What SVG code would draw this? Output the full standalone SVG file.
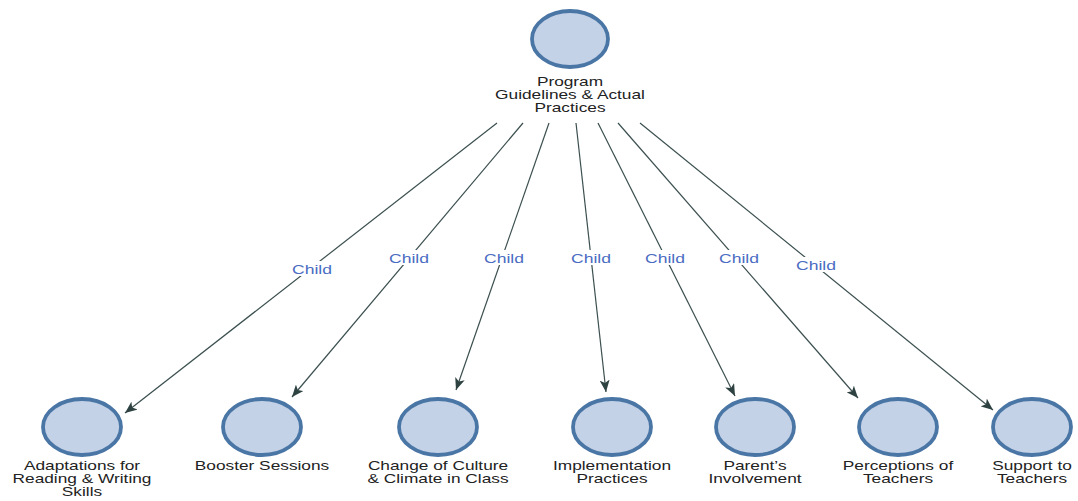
<svg xmlns="http://www.w3.org/2000/svg" width="1078" height="501" viewBox="0 0 1078 501">
  <style>
    .node ellipse { fill: #c4d2e7; stroke: #4a76a6; stroke-width: 3.8; }
    .node text { font-family: "Liberation Sans", Arial, sans-serif; font-size: 13.5px; fill: #222; text-anchor: middle; }
    .edge line { stroke: #3c4f4f; stroke-width: 1.2; marker-end: url(#arrow); }
    .edge rect { fill: #ffffff; }
    .edge text { font-family: "Liberation Sans", Arial, sans-serif; font-size: 13.5px; fill: #4a6cc2; text-anchor: middle; }
  </style>
  <defs>
    <marker id="arrow" markerUnits="userSpaceOnUse" markerWidth="14" markerHeight="10" refX="12" refY="5" orient="auto">
      <path d="M0,0 L12,5 L0,10 L3,5 z" fill="#2f4242"/>
    </marker>
  </defs>
  <rect width="1078" height="501" fill="#ffffff"/>

  <!-- connectors: parent to each child -->
  <g id="connectors">
    <g class="edge">
      <line x1="497" y1="123" x2="125" y2="413"/>
      <rect x="290" y="261" width="44" height="15"/>
      <text transform="translate(312,274) scale(1.3,1)">Child</text>
    </g>
    <g class="edge">
      <line x1="523" y1="123" x2="292" y2="397"/>
      <rect x="387" y="250" width="44" height="15"/>
      <text transform="translate(409,263) scale(1.3,1)">Child</text>
    </g>
    <g class="edge">
      <line x1="549" y1="123" x2="456" y2="390"/>
      <rect x="482" y="250" width="44" height="15"/>
      <text transform="translate(504,263) scale(1.3,1)">Child</text>
    </g>
    <g class="edge">
      <line x1="576" y1="123" x2="606" y2="392"/>
      <rect x="569" y="250" width="44" height="15"/>
      <text transform="translate(591,263) scale(1.3,1)">Child</text>
    </g>
    <g class="edge">
      <line x1="598" y1="123" x2="735" y2="396"/>
      <rect x="643" y="250" width="44" height="15"/>
      <text transform="translate(665,263) scale(1.3,1)">Child</text>
    </g>
    <g class="edge">
      <line x1="618" y1="123" x2="858" y2="398"/>
      <rect x="717" y="250" width="44" height="15"/>
      <text transform="translate(739,263) scale(1.3,1)">Child</text>
    </g>
    <g class="edge">
      <line x1="640" y1="123" x2="993" y2="410"/>
      <rect x="794" y="257" width="44" height="15"/>
      <text transform="translate(816,270) scale(1.3,1)">Child</text>
    </g>
  </g>

  <!-- root node -->
  <g id="node-program" class="node">
    <ellipse cx="570" cy="39" rx="38" ry="28"/>
    <text transform="translate(570,86) scale(1.28,1)">Program</text>
    <text transform="translate(570,99) scale(1.28,1)">Guidelines &amp; Actual</text>
    <text transform="translate(570,112) scale(1.28,1)">Practices</text>
  </g>

  <!-- child nodes -->
  <g id="node-adaptations" class="node">
    <ellipse cx="82" cy="427" rx="39" ry="28"/>
    <text transform="translate(82,470) scale(1.28,1)">Adaptations for</text>
    <text transform="translate(82,483) scale(1.28,1)">Reading &amp; Writing</text>
    <text transform="translate(82,496) scale(1.28,1)">Skills</text>
  </g>
  <g id="node-booster" class="node">
    <ellipse cx="262" cy="427" rx="39" ry="28"/>
    <text transform="translate(262,470) scale(1.28,1)">Booster Sessions</text>
  </g>
  <g id="node-change" class="node">
    <ellipse cx="438" cy="427" rx="39" ry="28"/>
    <text transform="translate(438,470) scale(1.28,1)">Change of Culture</text>
    <text transform="translate(438,483) scale(1.28,1)">&amp; Climate in Class</text>
  </g>
  <g id="node-implementation" class="node">
    <ellipse cx="612" cy="427" rx="39" ry="28"/>
    <text transform="translate(612,470) scale(1.28,1)">Implementation</text>
    <text transform="translate(612,483) scale(1.28,1)">Practices</text>
  </g>
  <g id="node-parents" class="node">
    <ellipse cx="755" cy="427" rx="39" ry="28"/>
    <text transform="translate(755,470) scale(1.28,1)">Parent’s</text>
    <text transform="translate(755,483) scale(1.28,1)">Involvement</text>
  </g>
  <g id="node-perceptions" class="node">
    <ellipse cx="898" cy="427" rx="39" ry="28"/>
    <text transform="translate(898,470) scale(1.28,1)">Perceptions of</text>
    <text transform="translate(898,483) scale(1.28,1)">Teachers</text>
  </g>
  <g id="node-support" class="node">
    <ellipse cx="1032" cy="427" rx="39" ry="28"/>
    <text transform="translate(1032,470) scale(1.28,1)">Support to</text>
    <text transform="translate(1032,483) scale(1.28,1)">Teachers</text>
  </g>
</svg>
